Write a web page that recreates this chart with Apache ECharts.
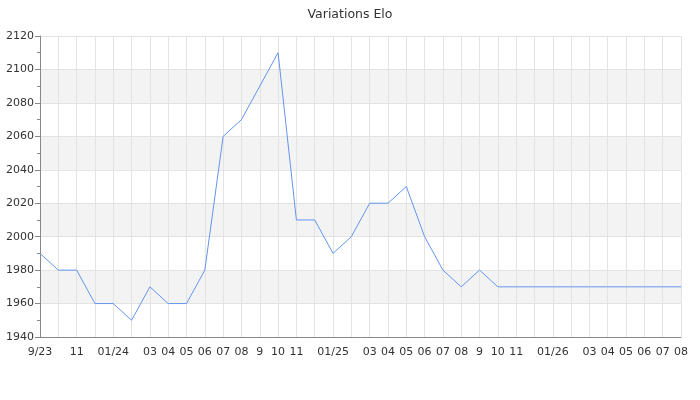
<!DOCTYPE html>
<html><head><meta charset="utf-8">
<script src="https://cdn.jsdelivr.net/npm/echarts@6/dist/echarts.min.js"></script>
<style>html,body{margin:0;padding:0;background:#fff}#c{width:700px;height:400px}</style>
</head><body><div id="c"></div>
<script>
var months = ['2023-09','2023-10','2023-11','2023-12','2024-01','2024-02','2024-03','2024-04','2024-05','2024-06','2024-07','2024-08','2024-09','2024-10','2024-11','2024-12','2025-01','2025-02','2025-03','2025-04','2025-05','2025-06','2025-07','2025-08','2025-09','2025-10','2025-11','2025-12','2026-01','2026-02','2026-03','2026-04','2026-05','2026-06','2026-07','2026-08'];
var tickLabels = ['9/23','','11','','01/24','','03','04','05','06','07','08','9','10','11','','01/25','','03','04','05','06','07','08','9','10','11','','01/26','','03','04','05','06','07','08'];
var elo = [1990,1980,1980,1960,1960,1950,1970,1960,1960,1980,2060,2070,2090,2110,2010,2010,1990,2000,2020,2020,2030,2000,1980,1970,1980,1970,1970,1970,1970,1970,1970,1970,1970,1970,1970,1970];
var yTicks = {min:1940, max:2120, step:20};

var chart = echarts.init(document.getElementById('c'), null, {renderer:'canvas'});
chart.setOption({
  animation:false,
  backgroundColor:'#fff',
  textStyle:{fontFamily:'DejaVu Sans'},
  title:{text:'Variations Elo', left:'center', top:3, textStyle:{fontSize:12.5, fontWeight:'normal', color:'#333', fontFamily:'DejaVu Sans'}},
  grid:{left:40, right:19, top:36, bottom:63, containLabel:false},
  xAxis:{
    type:'category', data:months, boundaryGap:false,
    axisLine:{lineStyle:{color:'#888'}},
    axisTick:{show:false},
    axisLabel:{interval:0, color:'#333', fontSize:11, margin:10, formatter:function(v,i){return tickLabels[i];}},
    splitLine:{show:true, interval:0, lineStyle:{color:'#e3e3e3', width:1}}
  },
  yAxis:{
    type:'value', min:yTicks.min, max:yTicks.max, interval:yTicks.step,
    axisLine:{show:true, lineStyle:{color:'#888'}},
    axisTick:{show:true, length:5, lineStyle:{color:'#888'}},
    minorTick:{show:true, splitNumber:2, length:3, lineStyle:{color:'#888'}},
    axisLabel:{color:'#333', fontSize:11, margin:6, formatter:function(v){return String(v);}},
    splitLine:{show:true, lineStyle:{color:'#e3e3e3'}},
    splitArea:{show:true, areaStyle:{color:['#ffffff','#f3f3f3']}}
  },
  series:[{type:'line', data:elo, showSymbol:false, symbol:'none', lineStyle:{color:'#6495ed', width:1}}]
});
</script></body></html>
